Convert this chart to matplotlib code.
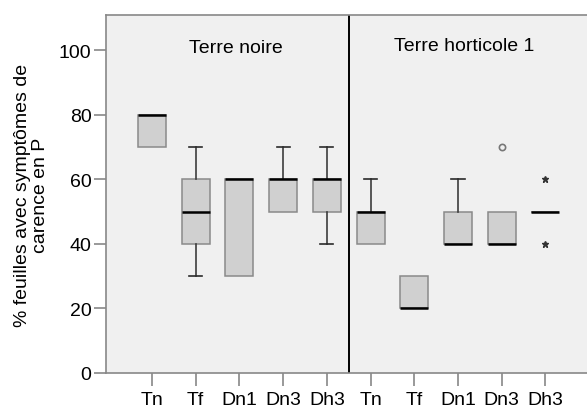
import matplotlib.pyplot as plt
import numpy as np

plt.rcParams['font.family'] = ['Liberation Sans', 'DejaVu Sans']

# Box statistics (% leaves with P deficiency symptoms)
labels = ['Tn', 'Tf', 'Dn1', 'Dn3', 'Dh3', 'Tn', 'Tf', 'Dn1', 'Dn3', 'Dh3']
q1 = [70, 40, 30, 50, 50, 40, 20, 40, 40, 50]
med = [80, 50, 60, 60, 60, 50, 20, 40, 40, 50]
q3 = [80, 60, 60, 60, 60, 50, 30, 50, 50, 50]
whislo = [70, 30, 30, 50, 40, 40, 20, 40, 40, 50]
whishi = [80, 70, 60, 70, 70, 60, 30, 60, 50, 50]
outliers = [[], [], [], [], [], [], [], [], [70], []]
extremes = [[], [], [], [], [], [], [], [], [], [40, 60]]
groups = ['Terre noire', 'Terre horticole 1']

stats = []
for i in range(len(labels)):
    stats.append(dict(label=labels[i], q1=q1[i], med=med[i], q3=q3[i],
                      whislo=whislo[i], whishi=whishi[i], fliers=outliers[i]))

fig = plt.figure(figsize=(5.87, 4.1), dpi=100)
ax = fig.add_axes([106 / 587, 36 / 410, 1 - 106 / 587, 358 / 410])
ax.set_facecolor('#f0f0f0')

pos = np.arange(1, len(labels) + 1)
bp = ax.bxp(stats, positions=pos, widths=0.64, patch_artist=True,
            boxprops=dict(facecolor='#d0d0d0', edgecolor='#8a8a8a', linewidth=1.1),
            medianprops=dict(color='black', linewidth=1.8),
            whiskerprops=dict(color='#3c3c3c', linewidth=1.2),
            capprops=dict(color='#2a2a2a', linewidth=1.2),
            capwidths=0.3,
            flierprops=dict(marker='o', markersize=4.5, markerfacecolor='none',
                            markeredgecolor='#777777', markeredgewidth=1.2))

# no cap when the whisker has zero length
for i in range(len(labels)):
    if whislo[i] == q1[i]:
        bp['caps'][2 * i].set_visible(False)
    if whishi[i] == q3[i]:
        bp['caps'][2 * i + 1].set_visible(False)

# extreme values drawn as stars
for i, ex in enumerate(extremes):
    if ex:
        ax.plot([pos[i]] * len(ex), ex, linestyle='none', marker='*',
                markersize=4.5, color='#333333')

ax.axvline(5.5, color='black', linewidth=1.4)

ax.text(2.92, 100.8, groups[0], ha='center', va='center', fontsize=14)
ax.text(8.15, 101.4, groups[1], ha='center', va='center', fontsize=14)

ax.set_xlim(-0.05, 10.95)
ax.set_ylim(0, 111)
ax.set_yticks([0, 20, 40, 60, 80, 100])
ax.set_xticks(pos)
ax.set_xticklabels(labels)
ax.tick_params(axis='both', labelsize=14, color='#888888', length=9, width=1.2)
ax.tick_params(axis='y', pad=1.5)
ax.tick_params(axis='x', pad=4)

for side in ['left', 'bottom', 'top']:
    ax.spines[side].set_color('#888888')
    ax.spines[side].set_linewidth(1.2)
ax.spines['right'].set_visible(False)

ax.set_ylabel('% feuilles avec symptômes de\ncarence en P', fontsize=14,
              linespacing=1.05, labelpad=7)

plt.savefig('out.png', dpi=100)
